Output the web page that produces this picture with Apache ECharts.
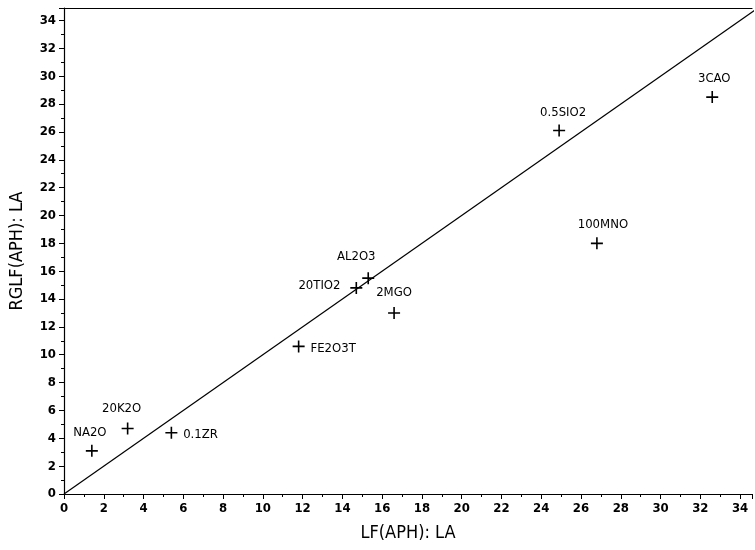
<!DOCTYPE html>
<html><head><meta charset="utf-8">
<script src="https://cdn.jsdelivr.net/npm/echarts@6/dist/echarts.min.js"></script>
<style>html,body{margin:0;padding:0;background:#fff}#c{width:755px;height:550px}</style>
</head><body><div id="c"></div>
<script>
const names = ['NA2O','20K2O','0.1ZR','FE2O3T','20TIO2','AL2O3','2MGO','0.5SIO2','100MNO','3CAO'];
const xVals = [1.4, 3.2, 5.4, 11.8, 14.7, 15.3, 16.6, 24.9, 26.8, 32.6];
const yVals = [3.1, 4.7, 4.4, 10.6, 14.8, 15.5, 13.0, 26.1, 18.0, 28.5];
const lineX = [0, 35];
const lineY = [0, 35];
const tickLabels = ['0','2','4','6','8','10','12','14','16','18','20','22','24','26','28','30','32','34'];

const labelCfg = {
  'NA2O':   {position:'top', offset:[-2,0]},
  '20K2O':  {position:'top', offset:[-6,-2]},
  '0.1ZR':  {position:'right', offset:[0,2]},
  'FE2O3T': {position:'right', offset:[0,2]},
  '20TIO2': {position:'left', offset:[-4,-2]},
  'AL2O3':  {position:'top', offset:[-12,-3]},
  '2MGO':   {position:'top', offset:[0,-2]},
  '0.5SIO2':{position:'top', offset:[4,0]},
  '100MNO': {position:'top', offset:[6,0]},
  '3CAO':   {position:'top', offset:[2,0]}
};
const font = '"Liberation Sans Narrow","DejaVu Sans Condensed","Liberation Sans",sans-serif';
const pts = names.map((n,i)=>({value:[xVals[i], yVals[i]], name:n, label:{show:true, formatter:n, ...labelCfg[n]}}));

const chart = echarts.init(document.getElementById('c'), null, {renderer:'canvas'});
const axisCommon = {
  min:0, interval:2,
  axisLine:{lineStyle:{color:'#000', width:1.2}},
  axisTick:{show:true, length:5, lineStyle:{color:'#000'}},
  minorTick:{show:true, splitNumber:2, length:3, lineStyle:{color:'#000'}},
  splitLine:{show:false},
  axisLabel:{color:'#000', fontFamily:font, fontSize:13, fontWeight:'bold', formatter:v=>tickLabels.includes(String(v))?String(v):''},
  nameLocation:'middle',
  nameTextStyle:{color:'#000', fontFamily:font, fontSize:18}
};
chart.setOption({
  animation:false,
  grid:{left:62, right:0, top:8, bottom:56, containLabel:false},
  xAxis:[
    {...axisCommon, type:'value', max:34.6, name:'LF(APH): LA', nameGap:30},
    {type:'value', position:'top', min:0, max:34.6, axisLine:{show:true, lineStyle:{color:'#000', width:1.2}}, axisTick:{show:false}, axisLabel:{show:false}, splitLine:{show:false}}
  ],
  yAxis:{...axisCommon, type:'value', max:34.9, name:'RGLF(APH): LA', nameGap:38},
  series:[
    {type:'line', data:lineX.map((x,i)=>[x, lineY[i]]), symbol:'none', lineStyle:{color:'#000', width:1.2}, silent:true, clip:true},
    {type:'scatter', data:pts, symbol:'path://M0,5L10,5M5,0L5,10', symbolSize:12,
     itemStyle:{color:'#000', borderColor:'#000', borderWidth:1.6, opacity:1},
     label:{color:'#000', fontFamily:font, fontSize:13, fontWeight:'normal'}}
  ]
});
</script></body></html>
